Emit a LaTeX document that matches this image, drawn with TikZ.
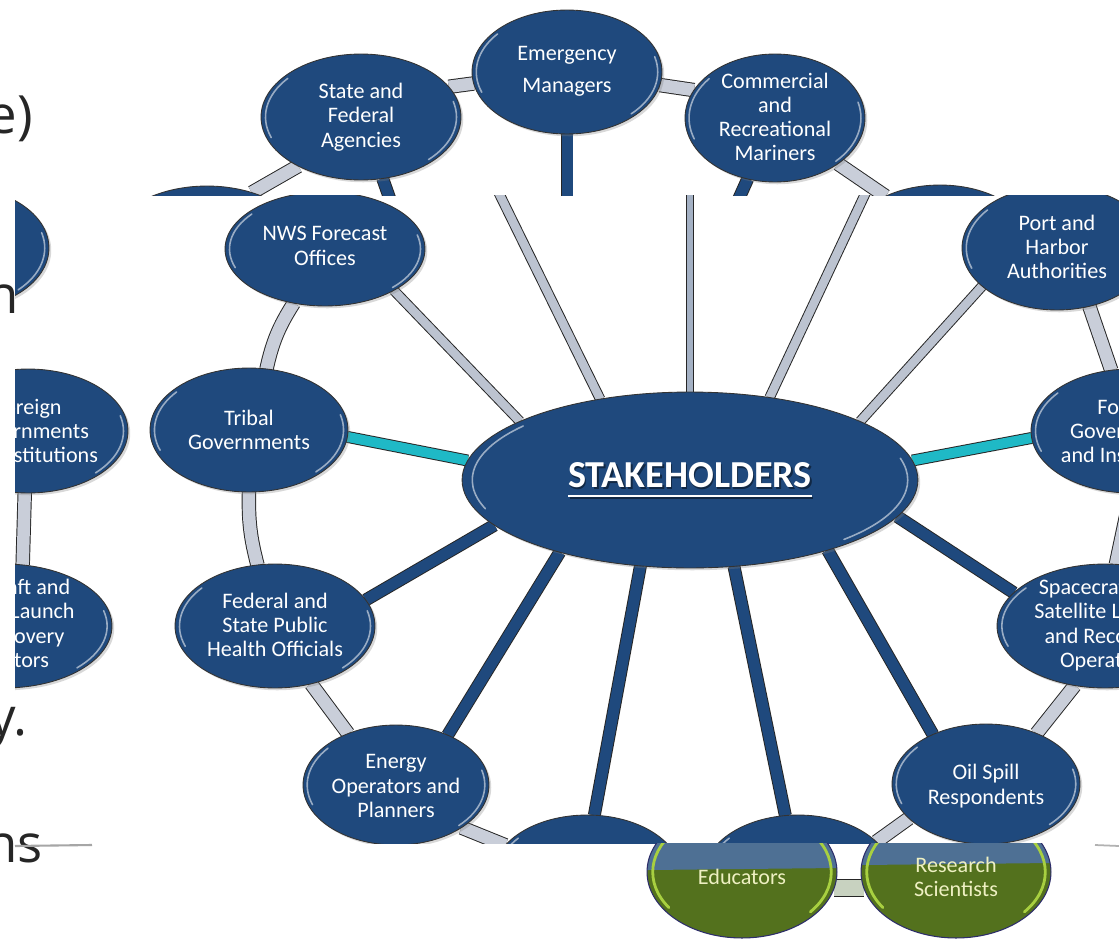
\documentclass[tikz,border=0pt]{standalone}
\usepackage{fontspec}
\setmainfont{Carlito}
\newfontfamily\bgfont{Open Sans}
\usetikzlibrary{shapes.geometric,calc,shadows}
\definecolor{nodeblue}{HTML}{1F497D}
\definecolor{spokegray}{HTML}{BCC3D0}
\definecolor{ringgray}{HTML}{C9CED9}
\definecolor{cyanc}{HTML}{1FB9C6}
\definecolor{greenc}{HTML}{53711D}
\definecolor{bandblue}{HTML}{4E7094}
\definecolor{cream}{HTML}{EEF0C2}
\definecolor{ggloss}{HTML}{A8D040}
\definecolor{navyo}{HTML}{2D2D6B}
\definecolor{glink}{HTML}{C8D2C0}
\newcommand\bubfont{\fontsize{12.6pt}{13.8pt}\selectfont}
\newcommand\stakeu{\setbox0\hbox{STAKEHOLDERS}\copy0\llap{\rule[-5.5pt]{\wd0}{1.2pt}}}
\newcommand\mkshp[5]{\node[shp, minimum width=#4*0.04cm, minimum height=#5*0.04cm] (#1) at (#2,#3) {};}
\newcommand\mkbody[5]{%
  \node[bubble, minimum width=#4*0.04cm, minimum height=#5*0.04cm] (#1) at (#2,#3) {};
  \draw[gloss] ($(#1.center)+(140:{#4*0.0191cm} and {#5*0.0191cm})$) arc[start angle=140, end angle=200, x radius=#4*0.0191cm, y radius=#5*0.0191cm];
  \draw[gloss] ($(#1.center)+(-45:{#4*0.0191cm} and {#5*0.0191cm})$) arc[start angle=-45, end angle=15, x radius=#4*0.0191cm, y radius=#5*0.0191cm];}
\newcommand\mkbub[7]{\mkbody{#1}{#2}{#3}{#4}{#5}\node[lbl] (#1-t) at (#2,#6) {#7};}
\newcommand\mkgreen[9]{%
  \node[greenb, minimum width=#4*0.04cm, minimum height=#5*0.04cm,
    path picture={\fill[bandblue] (path picture bounding box.north west) -- (path picture bounding box.north east) -- ([yshift=-#7]path picture bounding box.north east) -- ([yshift=-#6]path picture bounding box.north west) -- cycle;}] (#1) at (#2,#3) {};
  \draw[ggl] ($(#1.center)+(135:{#4*0.0188cm} and {#5*0.0188cm})$) arc[start angle=135, end angle=215, x radius=#4*0.0188cm, y radius=#5*0.0188cm];
  \draw[ggl] ($(#1.center)+(-40:{#4*0.0188cm} and {#5*0.0188cm})$) arc[start angle=-40, end angle=40, x radius=#4*0.0188cm, y radius=#5*0.0188cm];
  \node[glbl] (#1-t) at (#2,#8) {#9};}
\begin{document}
\begin{tikzpicture}[x=0.02cm,y=-0.02cm,
  shp/.style={ellipse, inner sep=0pt, outer sep=0pt},
  bubble/.style={ellipse, inner sep=0pt, outer sep=0pt, fill=nodeblue, draw=black!80, line width=0.5pt,
    drop shadow={shadow xshift=1.3pt, shadow yshift=-1.3pt, opacity=.3}},
  greenb/.style={ellipse, inner sep=0pt, outer sep=0pt, fill=greenc, draw=navyo, line width=0.6pt},
  gloss/.style={draw=white, opacity=.55, line width=0.9pt, line cap=round},
  ggl/.style={draw=ggloss, line width=1.6pt, line cap=round},
  lbl/.style={text=white, align=center, inner sep=0pt, font=\bubfont},
  glbl/.style={text=cream, align=center, inner sep=0pt, font=\bubfont},
  bgtxt/.style={inner sep=0pt, text=black!85, font=\bgfont\fontsize{30pt}{34pt}\selectfont},
  link/.style={line width=0.55pt, draw=black!85},
  graysp/.style={link, double=spokegray, double distance=0.17cm},
  thinsp/.style={link, double=spokegray!85!nodeblue, double distance=0.12cm},
  bluesp/.style={link, double=nodeblue, double distance=0.22cm},
  cyansp/.style={link, double=cyanc, double distance=0.2cm},
  ringc/.style={link, double=ringgray, double distance=0.25cm},
  greenlk/.style={link, double=glink, double distance=0.32cm}]
\useasboundingbox (0,0) rectangle (1119,940);
\fill[white] (0,0) rectangle (1119,940);
\clip (0,0) rectangle (1119,940);

% background slide text
\node[bgtxt, anchor=base east] (bg1) at (33,133) {e)};
\node[bgtxt, anchor=base east] (bg2) at (19,313) {n};
\node[bgtxt, anchor=base east] (bg3) at (28,735) {y.};
\node[bgtxt, anchor=base east] (bg4) at (43,862) {ns};

% ---------- top layer ----------
\begin{scope}
\clip (145,0) rectangle (1119,195);
\mkshp{stateT}{361}{117}{100}{63}
\mkshp{emergT}{567}{72}{95}{62}
\mkshp{commT}{775}{118}{90}{64}
\mkshp{nwsT}{207}{248}{100}{62}
\mkshp{portT}{940}{247}{95}{62}
\coordinate (sT1) at (392,205);
\coordinate (sT2) at (567,205);
\coordinate (sT3) at (736,205);
\draw[ringc] (stateT.19) -- (emergT.187);
\draw[ringc] (emergT.-8) -- (commT.161);
\draw[ringc] (commT.-36) -- (portT.137);
\draw[ringc] (stateT.218) -- (nwsT.51);
\draw[bluesp] (stateT) -- (sT1);
\draw[bluesp] (emergT) -- (sT2);
\draw[bluesp] (commT) -- (sT3);
\mkbody{nwsT}{207}{248}{100}{62}
\mkbody{portT}{940}{247}{95}{62}
\mkbub{stateT}{361}{117}{100}{63}{117}{State and\\Federal\\Agencies}
\mkbub{emergT}{567}{72}{95}{62}{71}{Emergency\\[4.4pt]Managers}
\mkbub{commT}{775}{118}{90}{64}{117}{Commercial\\and\\Recreational\\Mariners}
\end{scope}

% ---------- left panel ----------
\begin{scope}
\clip (15,195) rectangle (145,690);
\mkshp{portL}{-46}{248}{95}{62}
\mkshp{forL}{28}{431}{100}{62}
\mkshp{spcL}{4}{626}{108}{62}
\draw[ringc] (portL.-61) -- (forL.108);
\draw[ringc] (forL.267) -- (spcL.73);
\mkbub{portL}{-46}{248}{95}{62}{247}{Port and\\Harbor\\Authorities}
\mkbub{forL}{28}{431}{100}{62}{431}{Foreign\\Governments\\and Institutions}
\mkbub{spcL}{4}{626}{108}{62}{625}{Spacecraft and\\Satellite Launch\\and Recovery\\Operators}
\end{scope}

% ---------- main panel ----------
\begin{scope}
\clip (145,195) rectangle (1119,843);
\mkshp{stake}{690}{480}{228}{88}
\mkshp{nws}{325}{249}{100}{57}
\mkshp{port}{1057}{248}{95}{62}
\mkshp{tribal}{249}{430}{99}{62}
\mkshp{foreign}{1131}{431}{100}{62}
\mkshp{fed}{275}{626}{100}{62}
\mkshp{spc}{1105}{626}{108}{62}
\mkshp{energy}{396}{785}{93}{60}
\mkshp{oil}{986}{784}{94}{60}
\mkshp{botA}{587}{875}{94}{60}
\mkshp{botB}{798}{875}{94}{60}
\coordinate (u2) at (490,175);
\coordinate (u3) at (690,175);
\coordinate (u4) at (874,175);
% ring
\draw[ringc] (nws.240) to[bend right=10] (tribal.74);
\draw[ringc] (tribal.270) to[bend right=8] (fed.106);
\draw[ringc] (fed.-58) -- (energy.133);
\draw[ringc] (energy.-33) -- (botA.160);
\draw[ringc] (botB.23) -- (oil.204);
\draw[ringc] (oil.45) -- (spc.243);
\draw[ringc] (port.-61) -- (foreign.108);
\draw[ringc] (foreign.270) -- (spc.80);
% spokes
\draw[graysp] (stake.161) -- (nws.-31);
\draw[graysp] (stake.138) -- (u2);
\draw[thinsp] (stake.90) -- (u3);
\draw[graysp] (stake.46) -- (u4);
\draw[graysp] (stake.19) -- (port.207);
\draw[cyansp] (stake.175) -- (tribal.-4);
\draw[cyansp] (stake.5) -- (foreign.184);
\draw[bluesp] (stake.193) -- (fed.16);
\draw[bluesp] (stake.209) -- (energy.44);
\draw[bluesp] (stake.240) -- (botA.83);
\draw[bluesp] (stake.-63) -- (botB.102);
\draw[bluesp] (stake.-27) -- (oil.137);
\draw[bluesp] (stake.-10) -- (spc.160);
% nodes
\mkbody{botA}{587}{875}{94}{60}
\mkbody{botB}{798}{875}{94}{60}
\mkbub{nws}{325}{249}{100}{57}{246}{NWS Forecast\\Offices}
\mkbub{port}{1057}{248}{95}{62}{247}{Port and\\Harbor\\Authorities}
\mkbub{tribal}{249}{430}{99}{62}{430}{Tribal\\Governments}
\mkbub{foreign}{1131}{431}{100}{62}{431}{Foreign\\Governments\\and Institutions}
\mkbub{fed}{275}{626}{100}{62}{625}{Federal and\\State Public\\Health Officials}
\mkbub{spc}{1105}{626}{108}{62}{625}{Spacecraft and\\Satellite Launch\\and Recovery\\Operators}
\mkbub{energy}{396}{785}{93}{60}{786}{Energy\\Operators and\\Planners}
\mkbub{oil}{986}{784}{94}{60}{786}{Oil Spill\\Respondents}
\mkbody{stake}{690}{480}{228}{88}
\node[text=black, opacity=.45, inner sep=0pt, font=\fontsize{21.7pt}{24pt}\selectfont\bfseries] (stake-s) at (691.5,481.5) {\stakeu};
\node[text=white, inner sep=0pt, font=\fontsize{21.7pt}{24pt}\selectfont\bfseries] (stake-t) at (690,480) {\stakeu};
\end{scope}

% ---------- bottom layer ----------
\begin{scope}
\clip (0,843) rectangle (1119,940);
\draw[black!35, line width=1.2pt] (15,846) -- (92,845);
\draw[black!30, line width=1pt] (1095,845) -- (1119,846);
\mkshp{edu}{742}{872}{95}{66}
\mkshp{res}{956}{872}{95}{66}
\draw[greenlk] (edu.-10) -- (res.190);
\mkgreen{edu}{742}{872}{95}{66}{1.28cm}{1.24cm}{877}{Educators}
\mkgreen{res}{956}{872}{95}{66}{1.18cm}{1.14cm}{877}{Research\\Scientists}
\end{scope}
\end{tikzpicture}
\end{document}
